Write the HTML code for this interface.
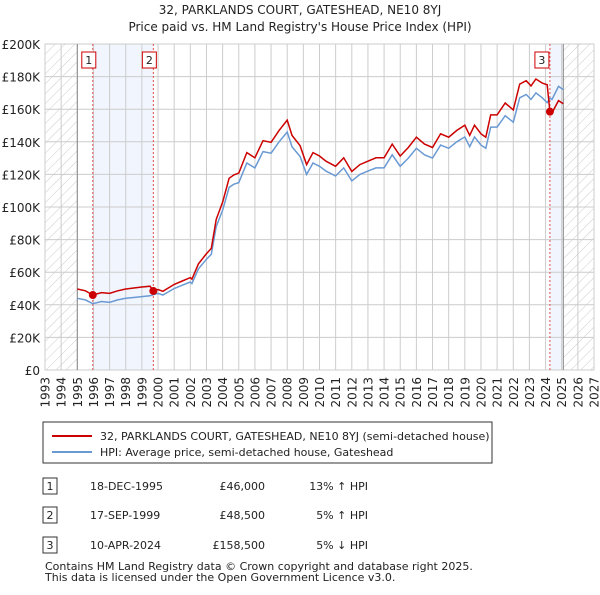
<!DOCTYPE html>
<html><head><meta charset="utf-8"><style>
body{margin:0;width:600px;height:590px;background:#fff;font-family:"Liberation Sans",sans-serif;overflow:hidden}
svg text{font-family:"DejaVu Sans","Liberation Sans",sans-serif;fill:#222}
</style></head><body>
<svg id="c" width="600" height="590">
<defs><pattern id="h" width="7" height="7" patternUnits="userSpaceOnUse" patternTransform="rotate(45)"><line x1="0" y1="0" x2="0" y2="7" stroke="#ccc" stroke-width="1"/></pattern></defs>
<text x="300" y="14" text-anchor="middle" font-size="12">32, PARKLANDS COURT, GATESHEAD, NE10 8YJ</text>
<text x="300" y="31" text-anchor="middle" font-size="12">Price paid vs. HM Land Registry's House Price Index (HPI)</text>
<g id="plot"></g>
<rect x="43" y="422" width="449" height="41" fill="#fff" stroke="#333"/>
<line x1="52" y1="436" x2="92" y2="436" stroke="#cc0000" stroke-width="2"/>
<text x="100" y="440" font-size="11">32, PARKLANDS COURT, GATESHEAD, NE10 8YJ (semi-detached house)</text>
<line x1="52" y1="452" x2="92" y2="452" stroke="#6a9ad4" stroke-width="2"/>
<text x="100" y="456" font-size="11">HPI: Average price, semi-detached house, Gateshead</text>
<g font-size="11">
<rect x="43" y="478" width="14" height="16" fill="#fff" stroke="#333"/><text x="50" y="490" text-anchor="middle">1</text>
<text x="90" y="490">18-DEC-1995</text><text x="265" y="490" text-anchor="end">£46,000</text><text x="368" y="490" text-anchor="end">13% ↑ HPI</text>
<rect x="43" y="507" width="14" height="16" fill="#fff" stroke="#333"/><text x="50" y="519" text-anchor="middle">2</text>
<text x="90" y="519">17-SEP-1999</text><text x="265" y="519" text-anchor="end">£48,500</text><text x="368" y="519" text-anchor="end">5% ↑ HPI</text>
<rect x="43" y="537" width="14" height="16" fill="#fff" stroke="#333"/><text x="50" y="549" text-anchor="middle">3</text>
<text x="90" y="549">10-APR-2024</text><text x="265" y="549" text-anchor="end">£158,500</text><text x="368" y="549" text-anchor="end">5% ↓ HPI</text>
<text x="45" y="570">Contains HM Land Registry data © Crown copyright and database right 2025.</text>
<text x="45" y="581">This data is licensed under the Open Government Licence v3.0.</text>
</g>
</svg>
<script>
const years=[1995,1995.5,1995.96,1996.5,1997,1997.5,1998,1998.5,1999,1999.5,1999.71,2000,2000.3,2001,2001.5,2002,2002.1,2002.5,2003,2003.3,2003.6,2004,2004.4,2004.7,2005,2005.5,2006,2006.5,2007,2007.5,2008,2008.3,2008.8,2009.2,2009.6,2010,2010.4,2011,2011.5,2012,2012.5,2013,2013.5,2014,2014.5,2015,2015.5,2016,2016.5,2017,2017.5,2018,2018.5,2019,2019.3,2019.6,2020,2020.3,2020.6,2021,2021.5,2022,2022.4,2022.8,2023.1,2023.4,2023.8,2024.1,2024.27,2024.4,2024.8,2025.1];
const hpi=[44,43,40.7,42,41.5,43,44,44.5,45,45.5,46.2,47,46,50,52,54,53,62,68,71,88,98,112,114,115,127,124,134,133,140,146,137,131,120,127,125,122,119,124,116,120,122,124,124,132,125,130,136,132,130,138,136,140,143,137,143,138,136,149,149,156,152,167,169,166,170,167,164,166.8,166,174,172];
const price=[49.7,48.6,46,47.5,47,48.6,49.7,50.3,50.9,51.4,48.5,49.4,48.3,52.5,54.6,56.7,55.7,65.1,71.4,74.6,92.4,102.9,117.6,119.7,120.8,133.4,130.2,140.7,139.7,147,153.3,143.9,137.6,126,133.4,131.3,128.1,125,130.2,121.8,126,128.1,130.2,130.2,138.6,131.3,136.5,142.8,138.6,136.5,144.9,142.8,147,150.2,143.9,150.2,144.9,142.8,156.5,156.5,163.8,159.6,175.4,177.5,174.3,178.5,176,175,158.5,157.7,165.3,163.4];
const saleYears=[1995.96,1999.71,2024.27];
const salePrices=[46,48.5,158.5];
const yTicks=[0,20,40,60,80,100,120,140,160,180,200];
const xTicks=[1993,1994,1995,1996,1997,1998,1999,2000,2001,2002,2003,2004,2005,2006,2007,2008,2009,2010,2011,2012,2013,2014,2015,2016,2017,2018,2019,2020,2021,2022,2023,2024,2025,2026,2027];
const X0=45,X1=594,Y0=370,Y1=44;
const sx=t=>X0+(t-1993)/34*(X1-X0);
const sy=v=>Y0-v/200*(Y0-Y1);
const g=document.getElementById('plot');
const NS='http://www.w3.org/2000/svg';
function mk(tag,at){const e=document.createElementNS(NS,tag);for(const k in at)e.setAttribute(k,at[k]);g.appendChild(e);return e;}
let e;
e=mk('rect',{x:sx(1993),y:Y1,width:sx(1995)-sx(1993),height:Y0-Y1,fill:'url(#h)'});


e=mk('rect',{x:sx(2025.1),y:Y1,width:sx(2027)-sx(2025.1),height:Y0-Y1,fill:'url(#h)'});


e=mk('rect',{x:sx(saleYears[0]),y:Y1,width:sx(saleYears[1])-sx(saleYears[0]),height:Y0-Y1,fill:'#eef3fc',opacity:0.8});


e=mk('rect',{x:sx(saleYears[2]),y:Y1,width:sx(2025.1)-sx(saleYears[2]),height:Y0-Y1,fill:'#eef3fc',opacity:0.8});


yTicks.forEach(v=>{e=mk('line',{x1:X0,x2:X1,y1:sy(v),y2:sy(v),stroke:'#ccc'});


e=mk('text',{x:40,y:sy(v)+5,'text-anchor':'end','font-size':12});e.textContent=v===0?'£0':'£'+v+'K';

});
xTicks.forEach(t=>{e=mk('line',{x1:sx(t),x2:sx(t),y1:Y1,y2:Y0,stroke:'#ccc'});


const lx=sx(t)+4.5,ly=377;
e=mk('text',{x:lx,y:ly,'text-anchor':'end','font-size':12,transform:'rotate(-90 '+lx+' '+ly+')'});e.textContent=t;

});
e=mk('rect',{x:X0,y:Y1,width:X1-X0,height:Y0-Y1,fill:'none',stroke:'#ccc'});


[1995,2025.1].forEach(t=>{e=mk('line',{x1:sx(t),x2:sx(t),y1:Y1,y2:Y0,stroke:'#888'});

});
saleYears.forEach((t,i)=>{e=mk('line',{x1:sx(t),x2:sx(t),y1:Y1,y2:Y0,stroke:'#e05050','stroke-dasharray':'2,2'});

});
const pts=a=>years.map((t,i)=>sx(t).toFixed(1)+','+sy(a[i]).toFixed(1)).join(' ');
e=mk('polyline',{points:pts(hpi),fill:'none',stroke:'#6a9ad4','stroke-width':1.5});


e=mk('polyline',{points:pts(price),fill:'none',stroke:'#cc0000','stroke-width':1.5});


saleYears.forEach((t,i)=>{e=mk('circle',{cx:sx(t),cy:sy(salePrices[i]),r:4,fill:'#cc0000'});


const bx=sx(t)-(i===2?4:0)-7;
e=mk('rect',{x:bx-4,y:52,width:14,height:16,fill:'#fff',stroke:'#cc0000'});


e=mk('text',{x:bx+3,y:64,'text-anchor':'middle','font-size':11});e.textContent=String(i+1);

});
</script>
</body></html>
